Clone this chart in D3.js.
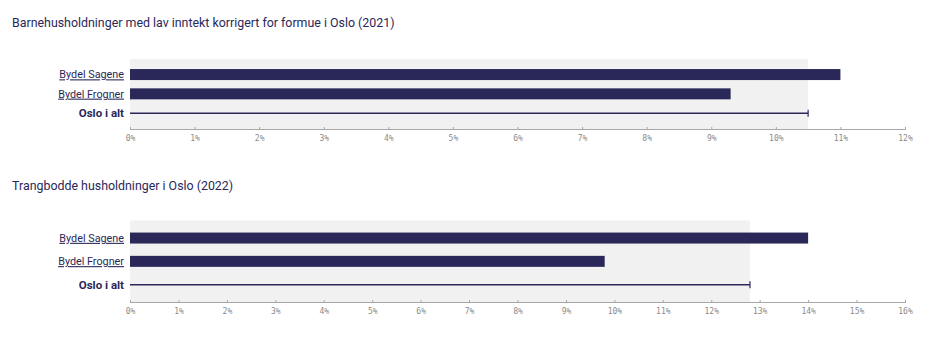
<!DOCTYPE html>
<html>
<head>
<meta charset="utf-8">
<script src="https://cdn.jsdelivr.net/npm/d3@7"></script>
<style>
	body { margin: 0; background: #fff; }
	svg text { font-family: Roboto, "Noto Sans", sans-serif; }
	.title { font-size: 12.4px; fill: #2a2859; }
	.cat { font-size: 10.8px; fill: #2a2859; }
	.cat.link { text-decoration: underline; }
	.cat.total { font-weight: 700; font-size: 11.5px; }
	svg .x-axis text { font-family: "DejaVu Sans Mono", monospace; font-size: 8px; fill: #8a8a8a; }
	.x-axis path, .x-axis line { stroke: #a8a8a8; }
</style>
</head>
<body>
<svg id="chart" width="938" height="340"></svg>
<script>
// Data
const categories = ['Bydel Sagene', 'Bydel Frogner', 'Oslo i alt'];

const titles = [
	'Barnehusholdninger med lav inntekt korrigert for formue i Oslo (2021)',
	'Trangbodde husholdninger i Oslo (2022)'
];

// values in percent: Sagene, Frogner, Oslo i alt
const lowIncomeValues = [11.0, 9.3, 10.5];
const crowdedValues = [14.0, 9.8, 12.8];

const lowIncomeTicks = [0, 1, 2, 3, 4, 5, 6, 7, 8, 9, 10, 11, 12];
const crowdedTicks = [0, 1, 2, 3, 4, 5, 6, 7, 8, 9, 10, 11, 12, 13, 14, 15, 16];

const NAVY = '#2a2859';
const svg = d3.select('#chart');

/*
	one panel = title + bars + bottom axis
	layout: titleY, top of first band, band step, axisY
*/
function panel(opts) {
	const { title, values, ticks, titleY, top, axisY, step } = opts;
	const x0 = 130, x1 = 905;
	
	const x = d3.scaleLinear()
		.domain([0, d3.max(ticks)])
		.range([x0, x1]);
	
	const y = d3.scaleBand()
		.domain(categories)
		.range([top, top + step * categories.length])
		.paddingInner(0)
		.paddingOuter(0);
	
	const g = svg.append('g');
	
	g.append('text')
		.attr('class', 'title')
		.attr('x', 12)
		.attr('y', titleY)
		.text(title);
	
	const total = values[categories.length - 1];
	
	// grey background up to the "Oslo i alt" value
	g.append('rect')
		.attr('x', x(0))
		.attr('y', top - opts.bgPad)
		.attr('width', x(total) - x(0))
		.attr('height', axisY - (top - opts.bgPad))
		.attr('fill', '#f1f1f1');
	
	const barH = 11;
	const rows = categories.map((c, i) => ({ cat: c, value: values[i], total: i === categories.length - 1 }));
	
	g.selectAll('rect.bar')
		.data(rows.filter(d => !d.total))
		.enter().append('rect')
			.attr('class', 'bar')
			.attr('x', x(0))
			.attr('y', d => y(d.cat) + y.bandwidth() / 2 - barH / 2)
			.attr('width', d => x(d.value) - x(0))
			.attr('height', barH)
			.attr('fill', NAVY);
	
	// total as thin line with end marker
	const tot = rows.filter(d => d.total)[0];
	const cy = y(tot.cat) + y.bandwidth() / 2;
	g.append('line')
		.attr('x1', x(0)).attr('x2', x(tot.value))
		.attr('y1', cy).attr('y2', cy)
		.attr('stroke', NAVY)
		.attr('stroke-width', 1.5);
	g.append('line')
		.attr('x1', x(tot.value)).attr('x2', x(tot.value))
		.attr('y1', cy - 3.5).attr('y2', cy + 3.5)
		.attr('stroke', NAVY)
		.attr('stroke-width', 1.2);
	
	g.selectAll('text.cat')
		.data(rows)
		.enter().append('text')
			.attr('class', d => 'cat ' + (d.total ? 'total' : 'link'))
			.attr('x', 124)
			.attr('y', d => y(d.cat) + y.bandwidth() / 2)
			.attr('dy', '0.35em')
			.attr('text-anchor', 'end')
			.text(d => d.cat);
	
	const axis = d3.axisBottom(x)
		.tickValues(ticks)
		.tickFormat(d => d + '%')
		.tickSizeInner(3)
		.tickSizeOuter(0)
		.tickPadding(3);
	
	const ax = g.append('g')
		.attr('class', 'x-axis')
		.attr('transform', `translate(0,${axisY})`)
		.call(axis);
	ax.selectAll('.tick line').attr('y1', -2).attr('y2', 1);
	ax.select('.domain').attr('stroke-width', 1.2);
}

panel({
	title: titles[0],
	values: lowIncomeValues,
	ticks: lowIncomeTicks,
	titleY: 27,
	top: 64.9,
	step: 19.3,
	bgPad: 6,
	axisY: 129
});

panel({
	title: titles[1],
	values: crowdedValues,
	ticks: crowdedTicks,
	titleY: 190,
	top: 226.4,
	step: 23.3,
	bgPad: 6,
	axisY: 302
});
</script>
</body>
</html>
